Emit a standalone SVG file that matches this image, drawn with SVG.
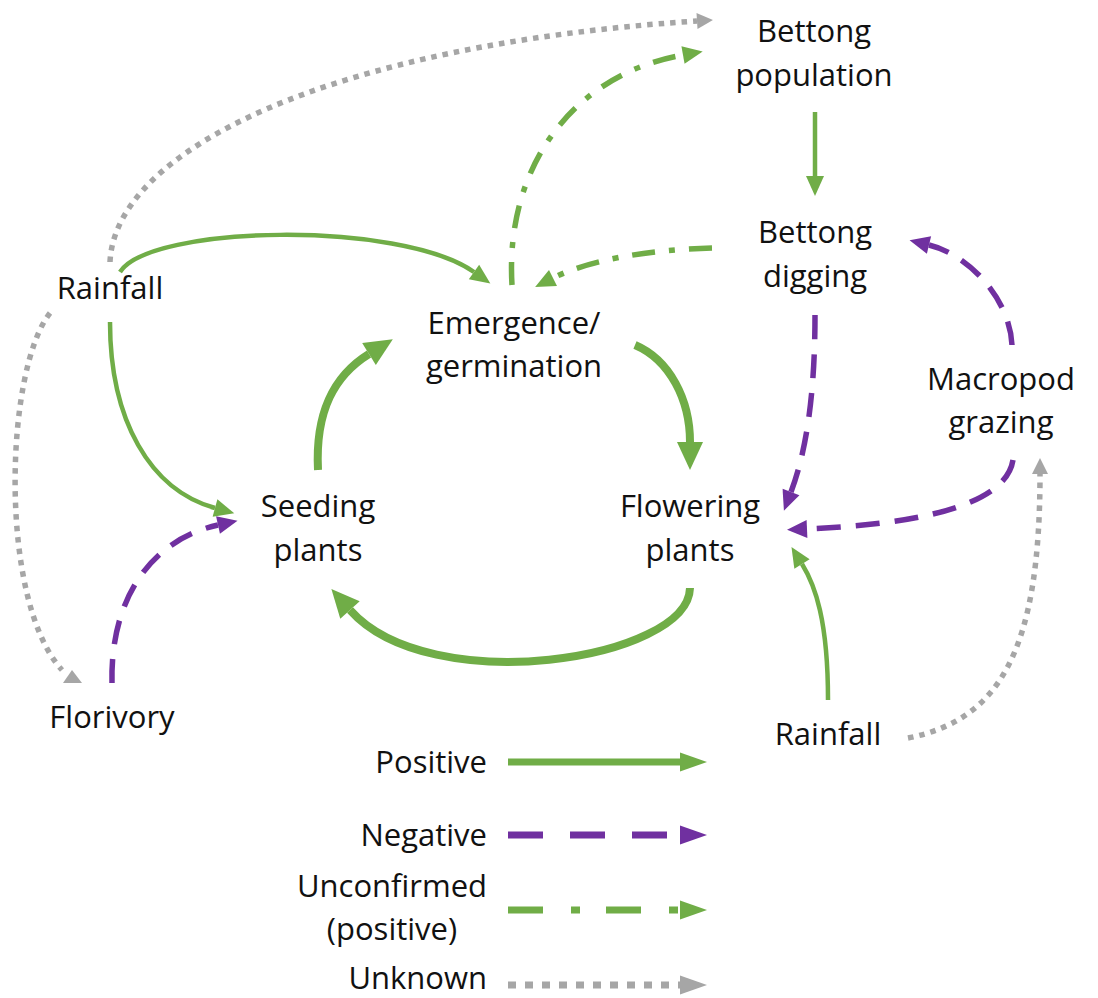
<svg xmlns="http://www.w3.org/2000/svg" width="1098" height="998" viewBox="0 0 1098 998">
  <style>
    .lbl { font-family: "Open Sans", "Liberation Sans", sans-serif; font-size: 31px; fill: #111; text-anchor: middle; }
    .lbl-r { text-anchor: end; }
    .c { fill: none; }
    .pos { stroke: #70AD47; stroke-width: 4.5; marker-end: url(#head-green); }
    .pos-thick { stroke: #70AD47; stroke-width: 8; marker-end: url(#head-green-big); }
    .neg { stroke: #7030A0; stroke-width: 5.5; stroke-dasharray: 24 15; marker-end: url(#head-purple); }
    .unc { stroke: #70AD47; stroke-width: 5.5; stroke-dasharray: 23 14 6 14; marker-end: url(#head-green); }
    .unk { stroke: #A6A6A6; stroke-width: 5.5; stroke-dasharray: 5.5 6; marker-end: url(#head-gray); }
    .leg { stroke-width: 7; marker-end: none; }
  </style>
  <defs>
    <marker id="head-green" markerUnits="userSpaceOnUse" markerWidth="1" markerHeight="1" refX="0" refY="0" orient="auto" overflow="visible">
      <path d="M0,-9 L20,0 L0,9 z" fill="#70AD47"/>
    </marker>
    <marker id="head-green-big" markerUnits="userSpaceOnUse" markerWidth="1" markerHeight="1" refX="0" refY="0" orient="auto" overflow="visible">
      <path d="M0,-13 L28,0 L0,13 z" fill="#70AD47"/>
    </marker>
    <marker id="head-purple" markerUnits="userSpaceOnUse" markerWidth="1" markerHeight="1" refX="0" refY="0" orient="auto" overflow="visible">
      <path d="M0,-9 L20,0 L0,9 z" fill="#7030A0"/>
    </marker>
    <marker id="head-gray" markerUnits="userSpaceOnUse" markerWidth="1" markerHeight="1" refX="0" refY="0" orient="auto" overflow="visible">
      <path d="M0,-8 L16,0 L0,8 z" fill="#A6A6A6"/>
    </marker>
    <marker id="head-gray-up" markerUnits="userSpaceOnUse" markerWidth="1" markerHeight="1" refX="0" refY="0" orient="0" overflow="visible">
      <path d="M1,13 L20,13 L10,0 z" fill="#A6A6A6"/>
    </marker>
    <marker id="leg-green" markerUnits="userSpaceOnUse" markerWidth="1" markerHeight="1" refX="0" refY="0" orient="auto" overflow="visible">
      <path d="M0,-9.5 L27,0 L0,9.5 z" fill="#70AD47"/>
    </marker>
    <marker id="leg-purple" markerUnits="userSpaceOnUse" markerWidth="1" markerHeight="1" refX="0" refY="0" orient="auto" overflow="visible">
      <path d="M0,-9.5 L27,0 L0,9.5 z" fill="#7030A0"/>
    </marker>
    <marker id="leg-gray" markerUnits="userSpaceOnUse" markerWidth="1" markerHeight="1" refX="0" refY="0" orient="auto" overflow="visible">
      <path d="M0,-9.5 L27,0 L0,9.5 z" fill="#A6A6A6"/>
    </marker>
  </defs>
  <rect width="1098" height="998" fill="#fff"/>

  <!-- connectors -->
  <g id="connectors">
    <!-- unknown links -->
    <path class="c unk" d="M110,262 C115,150 330,45 697,21"/>
    <path class="c unk" style="marker-end:url(#head-gray-up)" d="M50,313 C5,370 -2,600 62,670"/>
    <path class="c unk" d="M908,738 C1000,720 1040,650 1040,474"/>
    <!-- rainfall effects -->
    <path class="c pos" d="M120,272 C150,225 400,220 474,272"/>
    <path class="c pos" d="M110,322 C110,420 150,490 215,508"/>
    <path class="c pos" d="M828,700 C828,620 815,585 802,564"/>
    <!-- bettong chain -->
    <path class="c pos" d="M815,112 L815,176"/>
    <path class="c unc" d="M512,285 C505,170 570,75 683,55"/>
    <path class="c unc" d="M712,248 C640,250 585,262 553,278"/>
    <!-- negative effects -->
    <path class="c neg" d="M112,683 C110,600 150,540 218,525"/>
    <path class="c neg" d="M815,315 C815,400 805,455 791,492"/>
    <path class="c neg" d="M1012,345 C1010,300 970,255 929,245"/>
    <path class="c neg" d="M1013,460 C1005,510 900,525 807,529"/>
    <!-- plant life cycle -->
    <path class="c pos-thick" d="M318,470 C315,410 335,375 369,354"/>
    <path class="c pos-thick" d="M635,345 C670,360 690,400 690,442"/>
    <path class="c pos-thick" d="M690,588 C688,660 430,700 350,610"/>
    <!-- legend samples -->
    <path class="c pos leg" style="marker-end:url(#leg-green)" d="M508,762 L680,762"/>
    <path class="c neg leg" style="marker-end:url(#leg-purple);stroke-dasharray:35 27" d="M508,835 L680,835"/>
    <path class="c unc leg" style="marker-end:url(#leg-green);stroke-dasharray:35 28 9 26" d="M508,910 L680,910"/>
    <path class="c unk leg" style="marker-end:url(#leg-gray);stroke-dasharray:8 9" d="M508,985 L680,985"/>
  </g>

  <g id="bettong-population">
    <text class="lbl" x="814" y="42">Bettong</text>
    <text class="lbl" x="814" y="86">population</text>
  </g>
  <g id="bettong-digging">
    <text class="lbl" x="815" y="243">Bettong</text>
    <text class="lbl" x="815" y="287">digging</text>
  </g>
  <g id="rainfall-left">
    <text class="lbl" x="110" y="299">Rainfall</text>
  </g>
  <g id="emergence">
    <text class="lbl" x="514" y="334">Emergence/</text>
    <text class="lbl" x="514" y="377">germination</text>
  </g>
  <g id="macropod-grazing">
    <text class="lbl" x="1001" y="390">Macropod</text>
    <text class="lbl" x="1001" y="433">grazing</text>
  </g>
  <g id="seeding-plants">
    <text class="lbl" x="318" y="517">Seeding</text>
    <text class="lbl" x="318" y="561">plants</text>
  </g>
  <g id="flowering-plants">
    <text class="lbl" x="690" y="517">Flowering</text>
    <text class="lbl" x="690" y="561">plants</text>
  </g>
  <g id="florivory">
    <text class="lbl" x="112" y="728">Florivory</text>
  </g>
  <g id="rainfall-right">
    <text class="lbl" x="828" y="745">Rainfall</text>
  </g>

  <g id="legend">
    <text class="lbl lbl-r" x="487" y="773">Positive</text>
    <text class="lbl lbl-r" x="487" y="846">Negative</text>
    <text class="lbl" x="392" y="897">Unconfirmed</text>
    <text class="lbl" x="392" y="940">(positive)</text>
    <text class="lbl lbl-r" x="487" y="989">Unknown</text>
  </g>
</svg>
